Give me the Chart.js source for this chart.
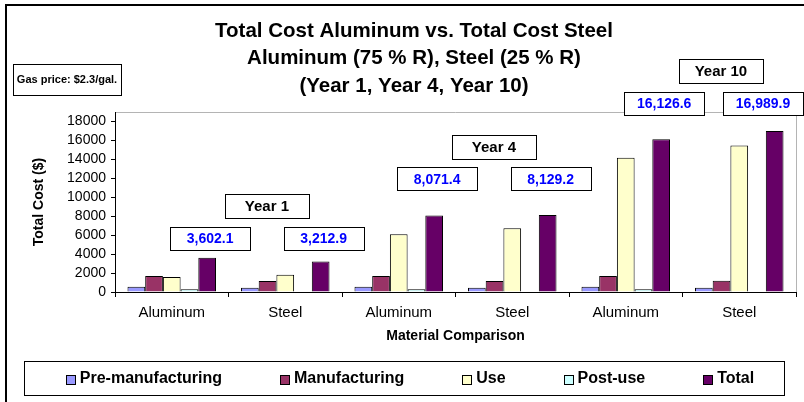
<!DOCTYPE html>
<html>
<head>
<meta charset="utf-8">
<script src="https://cdn.jsdelivr.net/npm/chart.js@4.4.1/dist/chart.umd.min.js"></script>
<style>
  html, body { margin: 0; padding: 0; background: #fff; }
  #wrap { position: relative; width: 804px; height: 402px; overflow: hidden; }
  canvas { position: absolute; left: 0; top: 0; }
</style>
</head>
<body>
<div id="wrap"><canvas id="c" width="804" height="402"></canvas></div>
<script>
// ---- data ----
const categories = ['Aluminum', 'Steel', 'Aluminum', 'Steel', 'Aluminum', 'Steel'];
const yearLabels = ['Year 1', 'Year 4', 'Year 10'];
const seriesNames = ['Pre-manufacturing', 'Manufacturing', 'Use', 'Post-use', 'Total'];
const preManufacturing = [560, 450, 560, 450, 560, 450];
const manufacturing = [1680, 1160, 1680, 1160, 1680, 1180];
const useValues = [1580, 1820, 6100, 6740, 14180, 15470];
const postUse = [280, null, 280, null, 300, null];
const totalValues = [3602.1, 3212.9, 8071.4, 8129.2, 16126.6, 16989.9];
const yTicks = [0, 2000, 4000, 6000, 8000, 10000, 12000, 14000, 16000, 18000];
const titleLines = ['Total Cost Aluminum vs. Total Cost Steel', 'Aluminum (75 % R), Steel (25 % R)', '(Year 1, Year 4, Year 10)'];
const gasNote = 'Gas price: $2.3/gal.';

// ---- styles / layout (not data) ----
const FONT = '"Liberation Sans", Arial, sans-serif';
const colors = ['#9999FF', '#993366', '#FFFFCC', '#CCFFFF', '#660066'];
// callout vertical levels in axis units, per year pair
const valueBoxLevel = [5700, 11950, 19950];
const yearBoxLevel = [9050, 15300, 23350];

const datasets = [preManufacturing, manufacturing, useValues, postUse, totalValues].map((d, i) => ({
  label: seriesNames[i],
  data: d,
  backgroundColor: colors[i],
  borderColor: '#000',
  borderWidth: 1,
  categoryPercentage: 0.78,
  barPercentage: 1.0
}));

function fmt(v) {
  return v.toLocaleString('en-US', { minimumFractionDigits: 1, maximumFractionDigits: 1 });
}

function box(ctx, cx, cy, w, h, text, color, font) {
  const x = Math.round(cx - w / 2) + 0.5, y = Math.round(cy - h / 2) + 0.5;
  ctx.fillStyle = '#fff';
  ctx.fillRect(x, y, w, h);
  ctx.strokeStyle = '#000';
  ctx.lineWidth = 1;
  ctx.strokeRect(x, y, w, h);
  ctx.fillStyle = color;
  ctx.font = font;
  ctx.textAlign = 'center';
  ctx.textBaseline = 'middle';
  ctx.fillText(text, cx, cy + 1);
}

const decor = {
  id: 'decor',
  beforeDraw(chart) {
    const { ctx, chartArea: a } = chart;
    ctx.save();
    ctx.fillStyle = '#fff';
    ctx.fillRect(0, 0, chart.width, chart.height);
    // outer frame (top + left)
    ctx.strokeStyle = '#000';
    ctx.lineWidth = 2;
    ctx.beginPath();
    ctx.moveTo(6, chart.height + 5);
    ctx.lineTo(6, 5);
    ctx.lineTo(chart.width + 5, 5);
    ctx.stroke();
    // plot area border top/right (gray)
    ctx.strokeStyle = '#B4B4B4';
    ctx.lineWidth = 1;
    ctx.beginPath();
    ctx.moveTo(a.left, a.top + 0.5);
    ctx.lineTo(a.right + 0.5, a.top + 0.5);
    ctx.lineTo(a.right + 0.5, a.bottom);
    ctx.stroke();
    ctx.restore();
  },
  afterDraw(chart) {
    const { ctx, chartArea: a, scales } = chart;
    ctx.save();
    // title
    ctx.fillStyle = '#000';
    ctx.font = 'bold 20.5px ' + FONT;
    ctx.textAlign = 'center';
    ctx.textBaseline = 'middle';
    const tcx = 414;
    titleLines.forEach((t, i) => ctx.fillText(t, tcx, 31 + i * 27.5));
    // gas price note
    box(ctx, 67, 79, 108, 31, gasNote, '#000', 'bold 11px ' + FONT);
    // callouts
    const meta = chart.getDatasetMeta(4);
    const y = scales.y;
    for (let p = 0; p < 3; p++) {
      const e1 = meta.data[p * 2], e2 = meta.data[p * 2 + 1];
      [e1, e2].forEach((el, k) => {
        let cx = el.x + 3;
        if (cx + 40 > chart.width - 1) cx = chart.width - 1 - 40;
        box(ctx, cx, y.getPixelForValue(valueBoxLevel[p]), 80, 23, fmt(totalValues[p * 2 + k]), '#0000FF', 'bold 14px ' + FONT);
      });
      const mid = (e1.x + e2.x) / 2 + 3;
      box(ctx, mid, y.getPixelForValue(yearBoxLevel[p]), 84, 24, yearLabels[p], '#000', 'bold 15px ' + FONT);
    }
    // legend
    const L = { left: 24, top: 361, right: 784, bottom: 395 };
    ctx.fillStyle = '#fff';
    ctx.fillRect(L.left, L.top, L.right - L.left, L.bottom - L.top);
    ctx.strokeStyle = '#000';
    ctx.lineWidth = 1;
    ctx.strokeRect(L.left + 0.5, L.top + 0.5, L.right - L.left, L.bottom - L.top);
    ctx.font = 'bold 16px ' + FONT;
    const mk = 9, gapMk = 5, gap = 58;
    const widths = chart.data.datasets.map(d => mk + gapMk + ctx.measureText(d.label).width);
    const total = widths.reduce((s, w) => s + w, 0) + gap * (widths.length - 1);
    let x = (L.left + L.right) / 2 - total / 2 + 6;
    const cy = (L.top + L.bottom) / 2 + 1;
    chart.data.datasets.forEach((d, i) => {
      ctx.fillStyle = d.backgroundColor;
      ctx.fillRect(Math.round(x) + 0.5, Math.round(cy - mk / 2) + 0.5, mk, mk);
      ctx.strokeStyle = '#000';
      ctx.strokeRect(Math.round(x) + 0.5, Math.round(cy - mk / 2) + 0.5, mk, mk);
      ctx.fillStyle = '#000';
      ctx.textAlign = 'left';
      ctx.textBaseline = 'middle';
      ctx.fillText(d.label, x + mk + gapMk, cy);
      x += widths[i] + gap;
    });
    ctx.restore();
  }
};

new Chart(document.getElementById('c'), {
  type: 'bar',
  data: { labels: categories, datasets },
  options: {
    responsive: false,
    animation: false,
    devicePixelRatio: 1,
    layout: { padding: { left: 30, right: 8, top: 112, bottom: 56 } },
    plugins: { legend: { display: false }, title: { display: false }, tooltip: { enabled: false } },
    scales: {
      x: {
        afterFit(s) { s.height = 54; },
        grid: { display: true, drawOnChartArea: false, drawTicks: true, tickLength: 5, color: '#000', offset: true },
        border: { display: true, color: '#000', width: 1 },
        ticks: { color: '#000', font: { family: FONT, size: 15 }, padding: 7, maxRotation: 0 },
        title: { display: true, text: 'Material Comparison', color: '#000', font: { family: FONT, size: 14, weight: 'bold' }, padding: { top: 0, bottom: 1 } }
      },
      y: {
        min: 0,
        max: 19000,
        afterFit(s) { s.width = 85; },
        afterBuildTicks(s) { s.ticks = yTicks.map(v => ({ value: v })); },
        grid: { display: true, drawOnChartArea: false, drawTicks: true, tickLength: 4, color: '#000' },
        border: { display: true, color: '#000', width: 1 },
        ticks: { color: '#000', font: { family: FONT, size: 14 }, padding: 5, callback: v => String(v) },
        title: { display: true, text: 'Total Cost ($)', color: '#000', font: { family: FONT, size: 14, weight: 'bold' }, padding: { top: 1, bottom: 0 } }
      }
    }
  },
  plugins: [decor]
});
</script>
</body>
</html>
